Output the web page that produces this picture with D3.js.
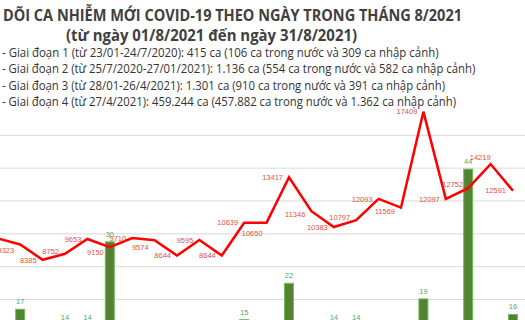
<!DOCTYPE html>
<html>
<head>
<meta charset="utf-8">
<script src="https://cdn.jsdelivr.net/npm/d3@7"></script>
<style>
  html, body { margin: 0; padding: 0; background: #ffffff; }
  svg { display: block; }
</style>
</head>
<body>
<svg id="chart" width="525" height="320"></svg>
<script>
// ---- data (August 2021, visible part of the chart) ----
const days = [8, 9, 10, 11, 12, 13, 14, 15, 16, 17, 18, 19, 20, 21, 22, 23, 24, 25, 26, 27, 28, 29, 30, 31];
const dailyCases = [9690, 9323, 8385, 8752, 9653, 9150, 9710, 9574, 8644, 9595, 8644, 10639, 10650, 13417, 11346, 10383, 10797, 12093, 11569, 17409, 12097, 12752, 14219, 12591];
const importedCases = [9, 17, 11, 14, 14, 30, 8, 10, 12, 7, 9, 15, 11, 22, 6, 14, 14, 10, 12, 19, 8, 44, 10, 16];
const gridTicks = [0, 2000, 4000, 6000, 8000, 10000, 12000, 14000, 16000];

const titleLine1 = "DÕI CA NHIỄM MỚI COVID-19 THEO NGÀY TRONG THÁNG 8/2021";
const titleLine2 = "(từ ngày 01/8/2021 đến ngày 31/8/2021)";
const notes = [
  "- Giai đoạn 1 (từ 23/01-24/7/2020): 415 ca (106 ca trong nước và 309 ca nhập cảnh)",
  "- Giai đoạn 2 (từ 25/7/2020-27/01/2021): 1.136 ca (554 ca trong nước và 582 ca nhập cảnh)",
  "- Giai đoạn 3 (từ 28/01-26/4/2021): 1.301 ca (910 ca trong nước và 391 ca nhập cảnh)",
  "- Giai đoạn 4 (từ 27/4/2021): 459.244 ca (457.882 ca trong nước và 1.362 ca nhập cảnh)"
];

// ---- layout ----
const W = 525, H = 320;
const svg = d3.select("#chart");
const rows = days.map((d, i) => ({ day: d, cases: dailyCases[i], imp: importedCases[i] }));

const x = d3.scaleLinear().domain([1, 31]).range([513 - 30 * 22.4, 513]);
const yLine = d3.scaleLinear().domain([0, 16000]).range([397.5, 134.8]);
const yBar = d3.scaleLinear().domain([0, 50]).range([397.5, 138]);

// gridlines
const grid = svg.append("g").attr("transform", `translate(0,0)`)
  .call(d3.axisLeft(yLine).tickValues(gridTicks).tickSize(-W * 2).tickFormat(""));
grid.select(".domain").remove();
grid.selectAll(".tick line").attr("stroke", "#d9d9d9").attr("stroke-width", 1);

// bars
const barW = 9;
svg.append("g").selectAll("rect").data(rows).join("rect")
  .attr("x", d => x(d.day) - barW / 2)
  .attr("y", d => yBar(d.imp))
  .attr("width", barW)
  .attr("height", d => yBar(0) - yBar(d.imp))
  .attr("fill", "#548235")
  .attr("stroke", "#6fbf5a")
  .attr("stroke-width", 1);

svg.append("g").selectAll("text").data(rows).join("text")
  .attr("x", d => x(d.day))
  .attr("y", d => yBar(d.imp) - 5)
  .attr("text-anchor", "middle")
  .attr("font-family", "Liberation Sans, Arial, sans-serif")
  .attr("font-size", 7.5)
  .attr("fill", "#4fa869")
  .text(d => d.imp);

// line
const line = d3.line().x(d => x(d.day)).y(d => yLine(d.cases));
svg.append("path").datum(rows)
  .attr("d", line)
  .attr("fill", "none")
  .attr("stroke", "#ff0000")
  .attr("stroke-width", 2.5)
  .attr("stroke-linejoin", "miter");

// line labels (placed left of point, with a few manual nudges like the original)
const nudge = { 9: [0, 6], 10: [0, 1], 11: [0, -2], 13: [0, 5], 15: [0, 7], 20: [2, 11],
  22: [0, 3], 24: [0, -3], 26: [0, 4], 29: [1, -4], 30: [6, -7], 31: [-1, 0] };
svg.append("g").selectAll("text").data(rows.filter(d => d.day > 8)).join("text")
  .attr("x", d => x(d.day) - 6 + (nudge[d.day] ? nudge[d.day][0] : 0))
  .attr("y", d => yLine(d.cases) + (nudge[d.day] ? nudge[d.day][1] : 0))
  .attr("dy", "0.35em")
  .attr("text-anchor", "end")
  .attr("font-family", "Liberation Sans, Arial, sans-serif")
  .attr("font-size", 7.5)
  .attr("fill", "#e2533f")
  .text(d => d.cases);

// titles
svg.append("text")
  .attr("x", 3).attr("y", 20.5)
  .attr("font-family", "Open Sans, Noto Sans, sans-serif")
  .attr("font-weight", "bold").attr("font-size", 16.5)
  .attr("fill", "#404040")
  .attr("textLength", 459).attr("lengthAdjust", "spacingAndGlyphs")
  .text(titleLine1);
svg.append("text")
  .attr("x", 66).attr("y", 40.5)
  .attr("font-family", "Open Sans, Noto Sans, sans-serif")
  .attr("font-weight", "bold").attr("font-size", 16.5)
  .attr("fill", "#404040")
  .attr("textLength", 291).attr("lengthAdjust", "spacingAndGlyphs")
  .text(titleLine2);

const noteY = [56.7, 73.2, 89.5, 105.5];
const noteW = [436.5, 473.3, 443, 454];
svg.append("g").selectAll("text").data(notes).join("text")
  .attr("x", 2)
  .attr("y", (d, i) => noteY[i])
  .attr("font-family", "Open Sans, Noto Sans, sans-serif")
  .attr("font-size", 12.5)
  .attr("fill", "#333333")
  .attr("textLength", (d, i) => noteW[i]).attr("lengthAdjust", "spacingAndGlyphs")
  .text(d => d);
</script>
</body>
</html>
